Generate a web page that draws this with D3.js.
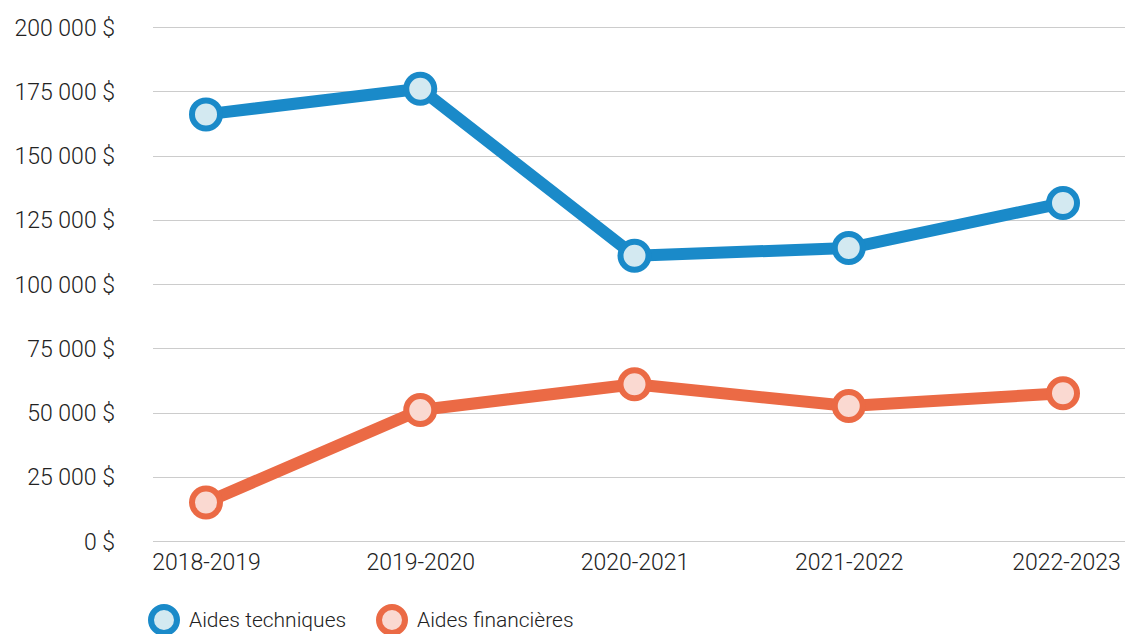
<!DOCTYPE html>
<html>
<head>
<meta charset="utf-8">
<script src="https://cdn.jsdelivr.net/npm/d3@7"></script>
<style>
	body { margin: 0; background: #fff; }
	text { font-family: Roboto, "Noto Sans", sans-serif; font-weight: 300; fill: #222; }
</style>
</head>
<body>
<div id="chart"></div>
<script>
// données
const annees = ["2018-2019", "2019-2020", "2020-2021", "2021-2022", "2022-2023"];
const aidesTechniques = [166000, 176000, 111000, 114000, 131500];
const aidesFinancieres = [15000, 51000, 61000, 52500, 57500];
const yTicks = [0, 25000, 50000, 75000, 100000, 125000, 150000, 175000, 200000];

const width = 1125, height = 634;

const svg = d3.select("#chart")
	.append("svg")
	.attr("width", width)
	.attr("height", height);

const x = d3.scalePoint()
	.domain(annees)
	.range([206, 1063]);

const y = d3.scaleLinear()
	.domain([0, 200000])
	.range([541, 27]);

const fmt = d3.formatLocale({decimal: ",", thousands: " ", grouping: [3], currency: ["", " $"]}).format(",");

// grille
const grille = svg.append("g");
grille.selectAll("line")
	.data(yTicks)
	.enter()
	.append("line")
	.attr("x1", 153)
	.attr("x2", width)
	.attr("y1", d => Math.round(y(d)) + 0.5)
	.attr("y2", d => Math.round(y(d)) + 0.5)
	.style("stroke", "#cccccc")
	.style("stroke-width", 1);

// axe y
const yAxis = svg.append("g")
	.attr("transform", "translate(115,0)")
	.call(d3.axisLeft(y).tickValues(yTicks).tickSize(0).tickPadding(0).tickFormat(d => fmt(d) + " $"));
yAxis.select(".domain").remove();
yAxis.selectAll("text").style("font-size", "23px").attr("dy", "0.35em");

// axe x
const xAxis = svg.append("g")
	.attr("transform", "translate(0,541)")
	.call(d3.axisBottom(x).tickSize(0).tickPadding(0));
xAxis.select(".domain").remove();
xAxis.selectAll("text").style("font-size", "23px").attr("dy", null).attr("y", 29);
xAxis.selectAll(".tick").filter(d => d == "2022-2023").select("text").attr("dx", 3);

const series = [
	{nom: "Aides techniques", valeurs: aidesTechniques, couleur: "#1a8ac9", fond: "#d3e9f1"},
	{nom: "Aides financières", valeurs: aidesFinancieres, couleur: "#eb6a45", fond: "#fad9d1"}
];

const ligne = d3.line()
	.x(d => x(d.annee))
	.y(d => y(d.valeur));

series.forEach(function(s){
	const pts = annees.map((a, i) => ({annee: a, valeur: s.valeurs[i]}));
	svg.append("path")
		.datum(pts)
		.attr("d", ligne)
		.style("fill", "none")
		.style("stroke", s.couleur)
		.style("stroke-width", 12)
		.style("stroke-linejoin", "round");
	svg.append("g").selectAll("circle")
		.data(pts)
		.enter()
		.append("circle")
		.attr("cx", d => x(d.annee))
		.attr("cy", d => y(d.valeur))
		.attr("r", 14)
		.style("fill", s.fond)
		.style("stroke", s.couleur)
		.style("stroke-width", 6);
});

// légende
const legende = svg.append("g");
const legX = [164, 392];
series.forEach(function(s, i){
	legende.append("circle")
		.attr("cx", legX[i])
		.attr("cy", 620)
		.attr("r", 13)
		.style("fill", s.fond)
		.style("stroke", s.couleur)
		.style("stroke-width", 6);
	legende.append("text")
		.attr("x", legX[i] + 25)
		.attr("y", 620)
		.attr("dy", "0.35em")
		.style("font-size", "21px")
		.text(s.nom);
});
</script>
</body>
</html>
